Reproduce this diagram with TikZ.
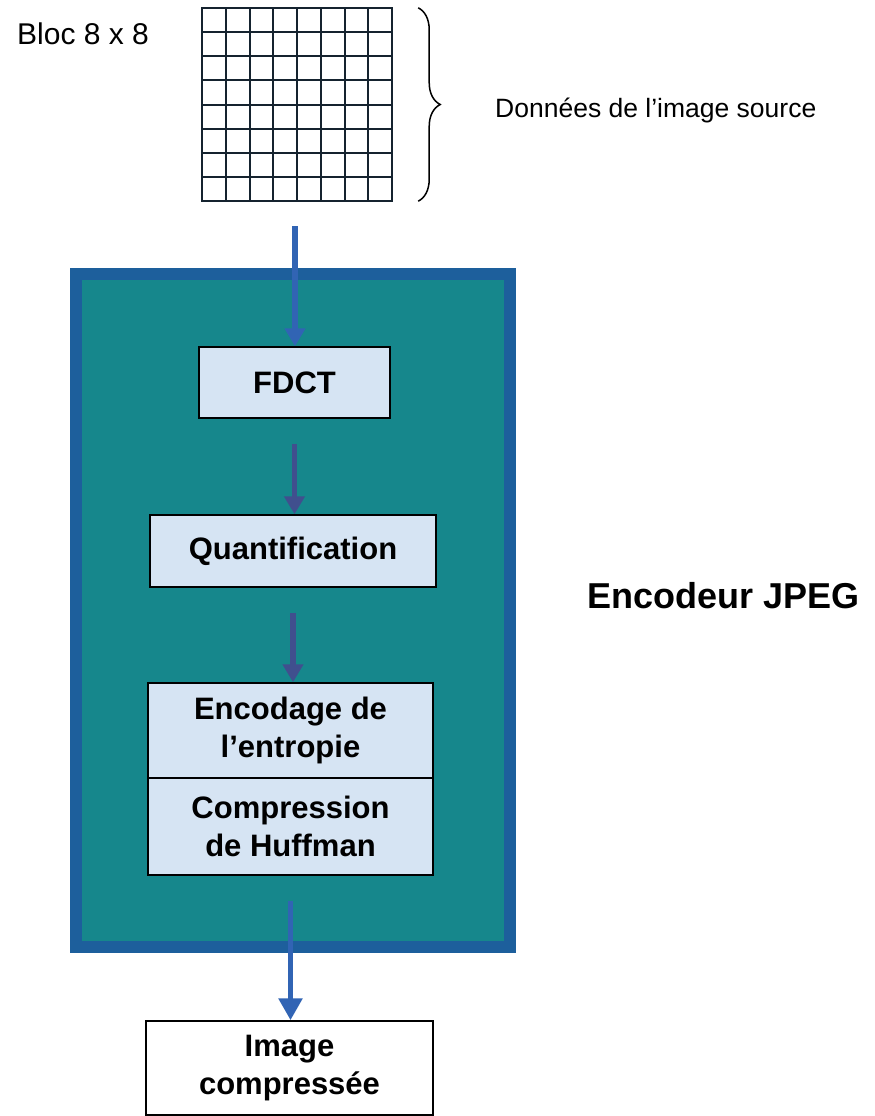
\documentclass[tikz,border=0pt]{standalone}
\usepackage{fontspec}
\setmainfont{Liberation Sans}
\usetikzlibrary{arrows.meta,decorations.pathreplacing,calc}
\definecolor{tealfill}{HTML}{16878C}
\definecolor{frameblue}{HTML}{1D5F9C}
\definecolor{boxfill}{HTML}{D6E4F3}
\definecolor{arrowblue}{HTML}{3164B4}
\definecolor{innerarrow}{HTML}{404F8E}
\definecolor{gridline}{HTML}{15232F}
\begin{document}
\begin{tikzpicture}[x=1pt,y=-1pt,
  procbox/.style={draw=black, line width=1.5pt, fill=boxfill, align=center, inner sep=0pt,
    font=\fontsize{31}{38}\selectfont\bfseries},
  flow/.style={line width=5.5pt, -{Triangle[width=20pt,length=18pt]}},
  gridstroke/.style={draw=gridline, line width=2pt, line cap=rect},
  plain/.style={inner sep=0pt}]
\useasboundingbox (0,0) rectangle (875,1116);
\fill[white] (0,0) rectangle (875,1116);

% encoder frame
\node[draw=frameblue, line width=12pt, fill=tealfill, minimum width=434pt, minimum height=673pt,
  inner sep=0pt] (encoder) at (293,610.5) {};

% 8x8 grid
\node[plain, minimum width=190pt, minimum height=193pt] (grid) at (297,104.5) {};
\foreach \i in {0,...,8} {
  \draw[gridstroke] ({202+\i*23.75},8) -- ({202+\i*23.75},201);
  \draw[gridstroke] (202,{8+\i*24.125}) -- (392,{8+\i*24.125});
}
\draw[decorate, decoration={brace, amplitude=22pt}, line width=1.5pt]
  ($(grid.north east)+(26,0)$) -- ($(grid.south east)+(26,0)$);

% labels
\node[plain, anchor=base west, font=\fontsize{30}{34}\selectfont] (bloc) at (17,45) {Bloc 8 x 8};
\node[plain, anchor=base west, font=\fontsize{26.5}{30}\selectfont] (donnees) at (495,117) {Données de l’image source};
\node[plain, anchor=base west, font=\fontsize{36}{40}\selectfont\bfseries] (jpeg) at (587,608) {Encodeur JPEG};

% process boxes
\node[procbox, minimum width=191pt, minimum height=71pt] (fdct) at (294.5,382.5) {FDCT};
\node[procbox, minimum width=286pt, minimum height=72pt] (quant) at (293,551) {Quantification};
\node[procbox, minimum width=285pt, minimum height=95pt] (entropie) at (290.5,730.5) {Encodage de\\l’entropie};
\node[procbox, minimum width=285pt, minimum height=97pt] (huff) at (290.5,826.5) {Compression\\de Huffman};
\node[procbox, fill=white, minimum width=287pt, minimum height=94pt] (img) at (289.5,1068) {Image\\compressée};

% connectors
\coordinate (src) at (295,226);
\draw[flow, arrowblue] (src) -- (src |- fdct.north);
\draw[flow, innerarrow, shorten <=25pt] (fdct.south) -- (fdct.south |- quant.north);
\draw[flow, innerarrow, shorten <=25pt] (quant.south) -- (quant.south |- entropie.north);
\draw[line width=5.5pt, arrowblue, shorten <=25pt, -{Triangle[width=23pt,length=22pt]}]
  (huff.south) -- (huff.south |- img.north);
\end{tikzpicture}
\end{document}
